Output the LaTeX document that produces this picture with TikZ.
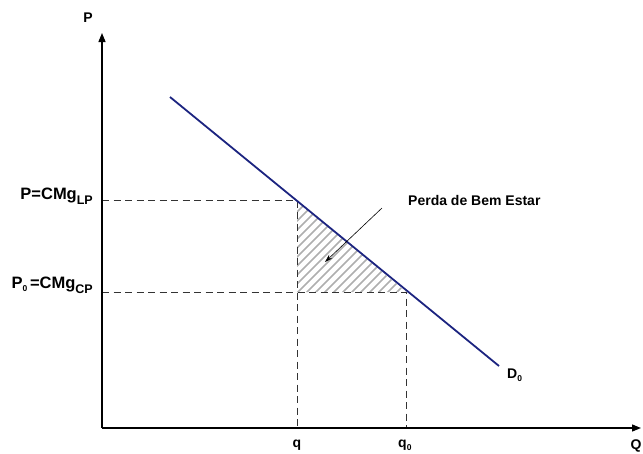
\documentclass[tikz,border=0pt]{standalone}
\usepackage{fontspec}
\setmainfont{Liberation Sans}
\usetikzlibrary{arrows.meta}
\definecolor{demandblue}{RGB}{28,36,128}
\definecolor{hatchgray}{RGB}{175,175,175}
\newcommand{\subLP}[1]{\raisebox{-5pt}{\fontsize{12.5}{12.5}\selectfont #1}}
\newcommand{\subzero}{\raisebox{-3pt}{\fontsize{8.5}{8.5}\selectfont 0}}
\tikzset{
    axis-line/.style = {line width=1.3pt, -{Triangle[length=9pt,width=7pt]}},
    guide-line/.style = {black!80, line width=0.9pt, dash pattern=on 7pt off 4.5pt},
    demand-line/.style = {demandblue, line width=1.8pt},
    hatch-line/.style = {hatchgray, line width=1.6pt},
    axis-label/.style = {font=\fontsize{14}{16}\selectfont\bfseries, inner sep=0pt},
    price-label/.style = {font=\fontsize{16.5}{18}\selectfont\bfseries, anchor=east, inner sep=0pt},
}

\begin{document}
\begin{tikzpicture}[x=1pt, y=-1pt]
\useasboundingbox (0,0) rectangle (643,453);

% points of the diagram
\coordinate (O) at (102,428);
\coordinate (ytip) at (102,33);
\coordinate (xtip) at (641,428);
\coordinate (d-start) at (170,97);
\coordinate (d-end) at (499,366);
\coordinate (A) at (297,200);
\coordinate (B) at (406,292);
\coordinate (A-left) at (102,200);
\coordinate (B-left) at (102,292);
\coordinate (A-base) at (297,428);
\coordinate (B-base) at (406,428);
\coordinate (C) at (297,292);

% welfare loss
\begin{scope}
    \clip (A) -- (C) -- (B) -- cycle;
    \foreach \s in {0,9,...,240}
        \draw[hatch-line] (180+\s,320) -- ++(130,-130);
\end{scope}

\draw[guide-line] (A-left) -- (A) -- (A-base);
\draw[guide-line] (B-left) -- (B) -- (B-base);

\draw[axis-line] (O) -- (ytip);
\draw[axis-line] (O) -- (xtip);

\draw[demand-line] (d-start) -- (d-end);

\node[axis-label] (p-axis) at (88,18) {P};
\node[axis-label] (q-axis) at (636,446) {Q};
\node[axis-label] (q) at (297,445) {q};
\node[axis-label, anchor=west] (q0) at (398,445) {q\subzero};

\node[price-label] (p-lp) at (93,196) {P=CMg\subLP{LP}};
\node[price-label] (p-cp) at (93,285) {P\subzero\,=CMg\subLP{CP}};

\node[axis-label, anchor=west] (loss) at (408,200) {Perda de Bem Estar};
\node[axis-label, anchor=west] (d0) at (507,375) {D\subzero};

\draw[-{Stealth[length=8pt,width=5pt]}, line width=0.6pt] (382,208) -- (325,262);
\end{tikzpicture}
\end{document}
